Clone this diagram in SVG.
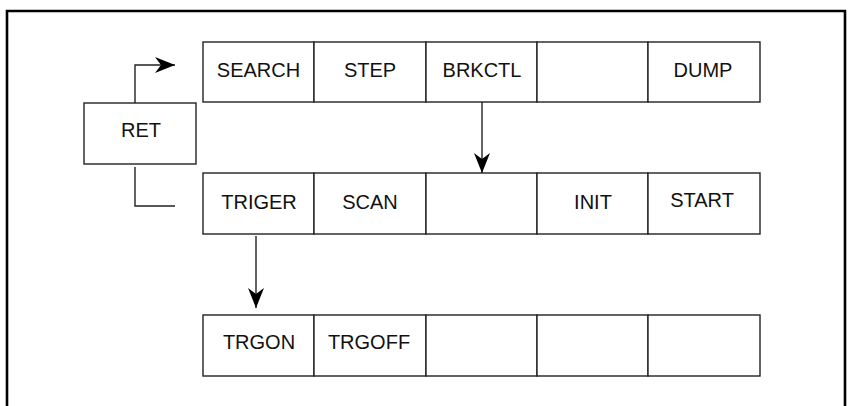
<svg xmlns="http://www.w3.org/2000/svg" width="849" height="406" viewBox="0 0 849 406">
<style>
.cell{fill:#fff;stroke:#222;stroke-width:1.4}
.lbl{font-family:"Liberation Sans",Arial,sans-serif;font-size:20px;fill:#111;text-anchor:middle}
.conn{fill:none;stroke:#222;stroke-width:1.4}
</style>
<defs>
<marker id="ah" markerUnits="userSpaceOnUse" viewBox="-20 -8 20 16" refX="0" refY="0" markerWidth="20" markerHeight="16" orient="auto">
<path d="M0,0 L-20,-8 L-14,0 L-20,8 Z" fill="#000"/>
</marker>
</defs>
<rect x="0" y="0" width="849" height="406" fill="#fff"/>
<path d="M7,420 V11 H845 V420" fill="none" stroke="#000" stroke-width="2.6"/>
<g id="row1">
<g id="SEARCH"><rect class="cell" x="203" y="42" width="111" height="60"/><text class="lbl" x="258.5" y="77">SEARCH</text></g>
<g id="STEP"><rect class="cell" x="314" y="42" width="112" height="60"/><text class="lbl" x="370" y="77">STEP</text></g>
<g id="BRKCTL"><rect class="cell" x="426" y="42" width="111" height="60"/><text class="lbl" x="482" y="77">BRKCTL</text></g>
<g id="row1_empty"><rect class="cell" x="537" y="42" width="111" height="60"/></g>
<g id="DUMP"><rect class="cell" x="648" y="42" width="112" height="60"/><text class="lbl" x="703" y="77">DUMP</text></g>
</g>
<g id="RET"><rect class="cell" x="84" y="103" width="112" height="61"/><text class="lbl" x="141" y="137">RET</text></g>
<g id="row2">
<g id="TRIGER"><rect class="cell" x="203" y="173" width="111" height="61"/><text class="lbl" x="259" y="209">TRIGER</text></g>
<g id="SCAN"><rect class="cell" x="314" y="173" width="112" height="61"/><text class="lbl" x="370" y="209">SCAN</text></g>
<g id="row2_empty"><rect class="cell" x="426" y="173" width="111" height="61"/></g>
<g id="INIT"><rect class="cell" x="537" y="173" width="111" height="61"/><text class="lbl" x="593" y="209">INIT</text></g>
<g id="START"><rect class="cell" x="648" y="173" width="112" height="61"/><text class="lbl" x="702" y="207">START</text></g>
</g>
<g id="row3">
<g id="TRGON"><rect class="cell" x="203" y="315" width="111" height="61"/><text class="lbl" x="259" y="349">TRGON</text></g>
<g id="TRGOFF"><rect class="cell" x="314" y="315" width="112" height="61"/><text class="lbl" x="369" y="349">TRGOFF</text></g>
<g id="row3_e1"><rect class="cell" x="426" y="315" width="111" height="61"/></g>
<g id="row3_e2"><rect class="cell" x="537" y="315" width="111" height="61"/></g>
<g id="row3_e3"><rect class="cell" x="648" y="315" width="112" height="61"/></g>
</g>
<g id="connectors">
<path class="conn" d="M135,103 V65 H175" marker-end="url(#ah)"/>
<path class="conn" d="M135,167 V206 H175"/>
<path class="conn" d="M482,102 V173" marker-end="url(#ah)"/>
<path class="conn" d="M256,236 V308" marker-end="url(#ah)"/>
</g>
</svg>
